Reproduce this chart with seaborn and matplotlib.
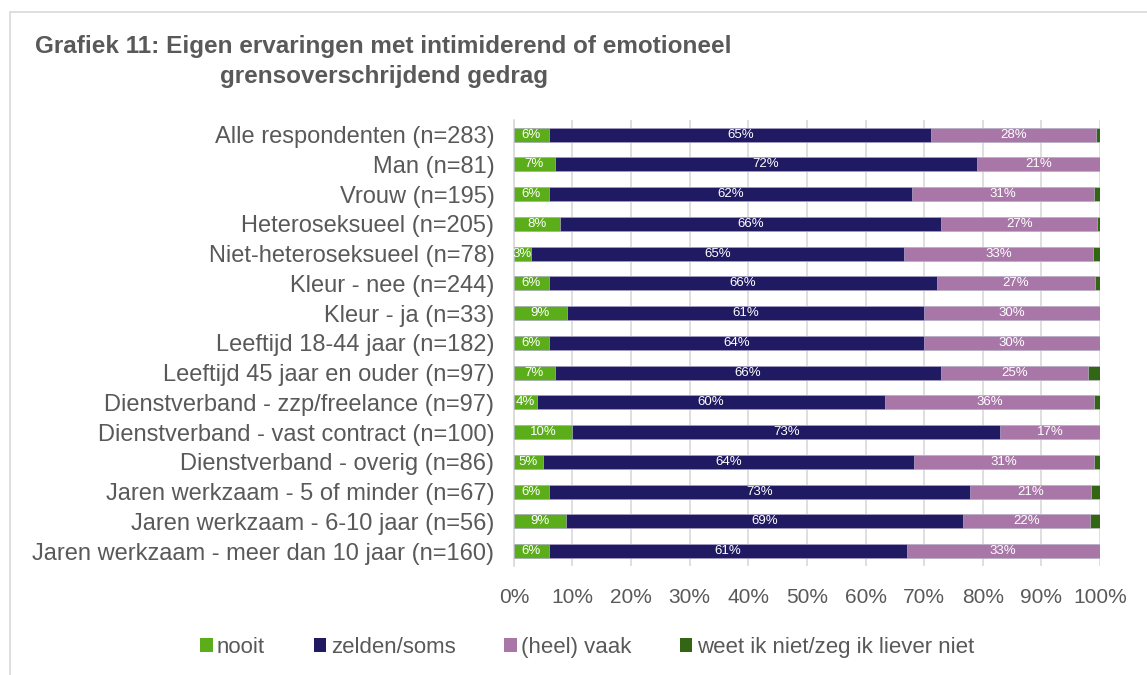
import numpy as np
import pandas as pd
import matplotlib.pyplot as plt
import seaborn as sns
from matplotlib.patches import Rectangle, Patch

# Data (percentages; Excel 100% stacked -> normalised per row)
groups = [
    'Alle respondenten (n=283)',
    'Man (n=81)',
    'Vrouw (n=195)',
    'Heteroseksueel (n=205)',
    'Niet-heteroseksueel (n=78)',
    'Kleur - nee (n=244)',
    'Kleur - ja (n=33)',
    'Leeftijd 18-44 jaar (n=182)',
    'Leeftijd 45 jaar en ouder (n=97)',
    'Dienstverband - zzp/freelance (n=97)',
    'Dienstverband - vast contract (n=100)',
    'Dienstverband - overig (n=86)',
    'Jaren werkzaam - 5 of minder (n=67)',
    'Jaren werkzaam - 6-10 jaar (n=56)',
    'Jaren werkzaam - meer dan 10 jaar (n=160)',
]
nooit = [6, 7, 6, 8, 3, 6, 9, 6, 7, 4, 10, 5, 6, 9, 6]
zelden = [65, 72, 62, 66, 65, 66, 61, 64, 66, 60, 73, 64, 73, 69, 61]
vaak = [28, 21, 31, 27, 33, 27, 30, 30, 25, 36, 17, 31, 21, 22, 33]
weet_niet = [0.7, 0, 1.0, 0.5, 1.2, 0.8, 0, 0, 2.1, 1.0, 0, 1.0, 1.5, 1.8, 0]

series = ['nooit', 'zelden/soms', '(heel) vaak', 'weet ik niet/zeg ik liever niet']
colors = ['#5bae1a', '#201a62', '#a977a7', '#336614']

raw = pd.DataFrame({'nooit': nooit, 'zelden/soms': zelden,
                    '(heel) vaak': vaak, 'weet ik niet/zeg ik liever niet': weet_niet},
                   index=groups)
pct = raw.div(raw.sum(axis=1), axis=0) * 100
cum = pct.cumsum(axis=1)
cum['group'] = groups

plt.rcParams['font.family'] = ['Liberation Sans', 'DejaVu Sans']
text_col = '#595959'

fig = plt.figure(figsize=(11.47, 6.75), dpi=100)
ax = fig.add_axes([0.448, 0.1615, 0.511, 0.661])

# stacked bars: draw cumulative totals from the back to the front
for s, c in reversed(list(zip(series, colors))):
    sns.barplot(data=cum, x=s, y='group', orient='h', color=c, width=0.47,
                edgecolor='#c9c3dd', linewidth=0.4, saturation=1, ax=ax, zorder=3)

# percentage labels inside the segments
for i, g in enumerate(groups):
    left = 0
    for s in series[:3]:
        w = pct.loc[g, s]
        ax.text(left + w / 2, i, f'{raw.loc[g, s]:.0f}%', ha='center', va='center',
                color='white', fontsize=9.5, zorder=4)
        left += w

ax.set_xlim(0, 100)
ax.set_ylim(len(groups) - 0.5, -0.5)
ax.set_xticks(np.arange(0, 101, 10))
ax.set_xticklabels([f'{t}%' for t in range(0, 101, 10)])
ax.set_xlabel('')
ax.set_ylabel('')
ax.grid(axis='x', color='#d9d9d9', linewidth=1.2, zorder=0)
ax.set_axisbelow(True)
for sp in ['top', 'right', 'bottom']:
    ax.spines[sp].set_visible(False)
ax.spines['left'].set_color('#d9d9d9')
ax.spines['left'].set_linewidth(1.2)
ax.tick_params(axis='both', length=0, labelcolor=text_col)
ax.tick_params(axis='y', pad=14, labelsize=17)
ax.tick_params(axis='x', pad=16, labelsize=15)

fig.text(0.3344, 0.948, 'Grafiek 11: Eigen ervaringen met intimiderend of emotioneel\n'
         'grensoverschrijdend gedrag', ha='center', va='top', fontsize=17.5,
         fontweight='bold', color=text_col, linespacing=1.4)

handles = [Patch(facecolor=c, label=s) for s, c in zip(series, colors)]
fig.legend(handles=handles, loc='center', bbox_to_anchor=(0.512, 0.041), ncol=4,
           frameon=False, fontsize=16, labelcolor=text_col, handlelength=0.55,
           handleheight=0.55, handletextpad=0.2, columnspacing=2.2)

fig.add_artist(Rectangle((0.0087, -0.05), 1.2, 1.032, transform=fig.transFigure,
                         fill=False, edgecolor='#d9d9d9', linewidth=1.2, clip_on=False))

plt.savefig('out.png', dpi=100)
